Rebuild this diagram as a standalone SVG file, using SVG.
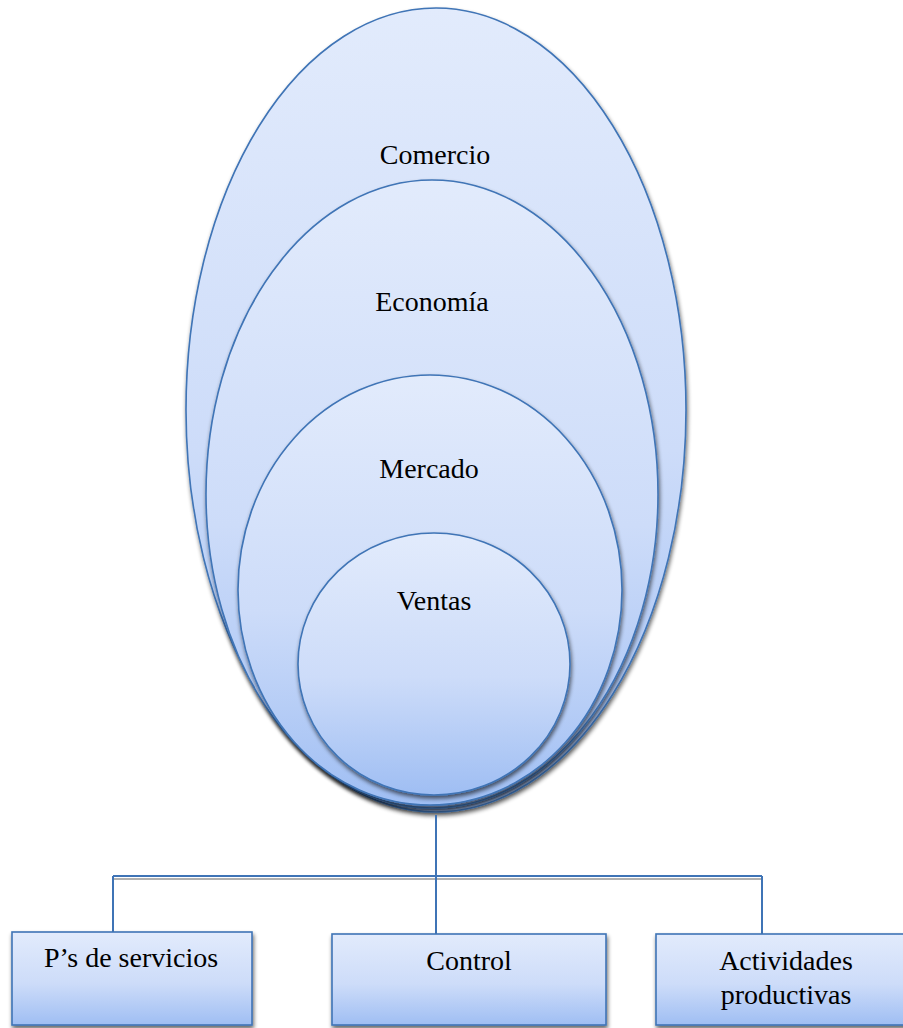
<svg xmlns="http://www.w3.org/2000/svg" width="903" height="1028" viewBox="0 0 903 1028">
<style>
.shape{stroke:#3f74b6;stroke-width:1.6}
.txt{font-family:"Times New Roman",Times,Tinos,"Liberation Serif","DejaVu Serif","Noto Serif",serif;font-size:28px;fill:#000;text-anchor:middle}
.line{fill:none;stroke:#3f74b6;stroke-width:2}
.lshadow{fill:none;stroke:#b0b0b0;stroke-width:2}
</style>
<defs>
<linearGradient id="g" x1="0" y1="0" x2="0" y2="1">
<stop offset="0" stop-color="#e2ebfc"/>
<stop offset="0.55" stop-color="#cddcf9"/>
<stop offset="1" stop-color="#9fbef3"/>
</linearGradient>
<filter id="sh" x="-10%" y="-10%" width="120%" height="120%">
<feGaussianBlur in="SourceAlpha" stdDeviation="2"/>
<feOffset dx="1" dy="3" result="b"/>
<feComponentTransfer><feFuncA type="linear" slope="0.6"/></feComponentTransfer>
<feMerge><feMergeNode/><feMergeNode in="SourceGraphic"/></feMerge>
</filter>
</defs>
<g id="comercio">
<ellipse class="shape" cx="436" cy="410" rx="250" ry="402" fill="url(#g)" filter="url(#sh)"/>
<text class="txt" x="435" y="164">Comercio</text>
</g>
<g id="economia">
<ellipse class="shape" cx="432" cy="494" rx="226" ry="314" fill="url(#g)" filter="url(#sh)"/>
<text class="txt" x="432" y="311">Economía</text>
</g>
<g id="mercado">
<ellipse class="shape" cx="430" cy="590" rx="192" ry="215" fill="url(#g)" filter="url(#sh)"/>
<text class="txt" x="429" y="478">Mercado</text>
</g>
<g id="ventas">
<ellipse class="shape" cx="434" cy="664" rx="136" ry="131" fill="url(#g)" filter="url(#sh)"/>
<text class="txt" x="434" y="610">Ventas</text>
</g>
<g id="connectors">
<path class="lshadow" d="M113 879 H762"/>
<path class="line" d="M436 815 V934 M113 876 H762 M113 876 V932 M762 876 V934"/>
</g>
<g id="servicios">
<rect class="shape" x="12" y="932" width="240" height="93" fill="url(#g)" filter="url(#sh)"/>
<text class="txt" x="131" y="967">P’s de servicios</text>
</g>
<g id="control">
<rect class="shape" x="332" y="934" width="274" height="91" fill="url(#g)" filter="url(#sh)"/>
<text class="txt" x="469" y="970">Control</text>
</g>
<g id="actividades">
<rect class="shape" x="656" y="934" width="260" height="91" fill="url(#g)" filter="url(#sh)"/>
<text class="txt" x="786" y="970">Actividades</text>
<text class="txt" x="786" y="1004">productivas</text>
</g>
</svg>
